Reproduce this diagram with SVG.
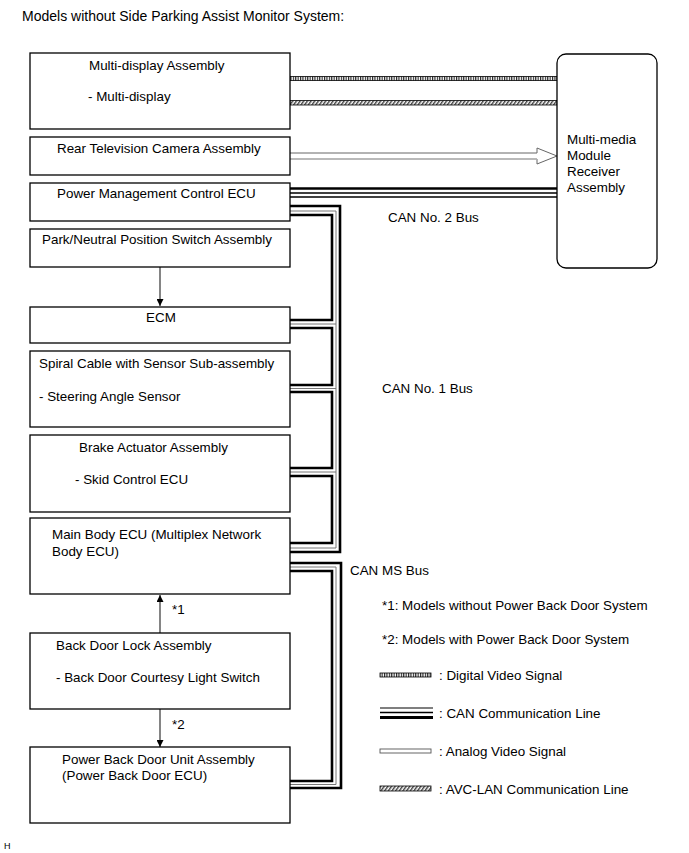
<svg xmlns="http://www.w3.org/2000/svg" width="689" height="853" viewBox="0 0 689 853">
<defs>
<pattern id="vhatch" patternUnits="userSpaceOnUse" width="2.4" height="10"><rect width="2.4" height="10" fill="#fff"/><line x1="0.6" y1="0" x2="0.6" y2="10" stroke="#000" stroke-width="1"/></pattern>
<pattern id="dhatch" patternUnits="userSpaceOnUse" width="3" height="10" patternTransform="rotate(35)"><rect width="3" height="10" fill="#fff"/><line x1="0.8" y1="0" x2="0.8" y2="10" stroke="#000" stroke-width="1.1"/></pattern>
<marker id="ah" viewBox="0 0 10 10" refX="10" refY="5" markerWidth="8" markerHeight="7" markerUnits="userSpaceOnUse" orient="auto"><path d="M0,0 L10,5 L0,10 z" fill="#000"/></marker>
</defs>
<style>
text{font-family:"Liberation Sans",Arial,sans-serif;font-size:13.4px;fill:#000}
.box{fill:#fff;stroke:#000;stroke-width:1.3}
.thk{fill:none;stroke:#000;stroke-width:2.6}
.mid{fill:none;stroke:#777;stroke-width:1}
.thn{fill:none;stroke:#000;stroke-width:1.4}
.arr{stroke:#333;stroke-width:1.2;marker-end:url(#ah)}
</style>
<rect width="689" height="853" fill="#fff"/>
<text x="22" y="21" style="font-size:14px">Models without Side Parking Assist Monitor System:</text>

<g id="connectors">
<rect x="290" y="76.5" width="267" height="4" fill="url(#vhatch)" stroke="#000" stroke-width="0.8"/>
<rect x="290" y="100.5" width="267" height="4.5" fill="url(#dhatch)" stroke="#000" stroke-width="0.8"/>
<path d="M290,153 H537 V148 L557,156 L537,164 V159 H290" fill="#fff" stroke="#666" stroke-width="1"/>
<line x1="290" y1="159" x2="537" y2="159" stroke="#bbb" stroke-width="1.5"/>
<line x1="290" y1="188.5" x2="557" y2="188.5" class="thk"/>
<line x1="290" y1="193" x2="557" y2="193" class="thn" stroke-width="1"/>
<line x1="290" y1="197" x2="557" y2="197" class="thn"/>
<path class="thk" d="M290,206 H340 V552 H290"/>
<path class="mid" d="M290,211 H336 V548 H290"/>
<path class="thk" d="M290,215 H332 V320 H290"/>
<path class="mid" d="M290,324 H336"/>
<path class="thk" d="M290,328 H332 V385 H290"/>
<path class="mid" d="M290,388.5 H336"/>
<path class="thk" d="M290,392 H332 V468 H290"/>
<path class="mid" d="M290,472 H336"/>
<path class="thk" d="M290,476 H332 V543 H290"/>
<path class="thk" d="M290,563 H341 V788 H290"/>
<path class="mid" d="M290,567 H336 V784.5 H290"/>
<path class="thk" d="M290,571 H332 V781 H290"/>
<line class="arr" x1="160" y1="267" x2="160" y2="306"/>
<line class="arr" x1="160" y1="633" x2="160" y2="595"/>
<line class="arr" x1="160" y1="709" x2="160" y2="747"/>
</g>

<g id="multi-display"><rect class="box" x="30" y="53" width="260" height="76"/>
<text x="89" y="70">Multi-display Assembly</text><text x="88" y="101">- Multi-display</text></g>
<g id="rear-camera"><rect class="box" x="30" y="137" width="260" height="38"/>
<text x="57" y="153">Rear Television Camera Assembly</text></g>
<g id="pmc-ecu"><rect class="box" x="30" y="183" width="260" height="38"/>
<text x="57" y="198">Power Management Control ECU</text></g>
<g id="pn-switch"><rect class="box" x="30" y="229" width="260" height="38"/>
<text x="42" y="244">Park/Neutral Position Switch Assembly</text></g>
<g id="ecm"><rect class="box" x="30" y="307" width="260" height="36"/>
<text x="161" y="322" text-anchor="middle">ECM</text></g>
<g id="spiral-cable"><rect class="box" x="30" y="351" width="260" height="76"/>
<text x="39" y="368">Spiral Cable with Sensor Sub-assembly</text><text x="39" y="401">- Steering Angle Sensor</text></g>
<g id="brake-actuator"><rect class="box" x="30" y="435" width="260" height="77"/>
<text x="79" y="452">Brake Actuator Assembly</text><text x="75" y="484">- Skid Control ECU</text></g>
<g id="main-body-ecu"><rect class="box" x="30" y="518" width="260" height="76"/>
<text x="52" y="539">Main Body ECU (Multiplex Network</text><text x="52" y="556">Body ECU)</text></g>
<g id="back-door-lock"><rect class="box" x="30" y="633" width="260" height="76"/>
<text x="56" y="650">Back Door Lock Assembly</text><text x="56" y="682">- Back Door Courtesy Light Switch</text></g>
<g id="power-back-door"><rect class="box" x="30" y="747" width="260" height="76"/>
<text x="62" y="764">Power Back Door Unit Assembly</text><text x="62" y="780">(Power Back Door ECU)</text></g>
<g id="multimedia"><rect class="box" x="557" y="54" width="100" height="214" rx="9"/>
<text x="567" y="144">Multi-media</text><text x="567" y="160">Module</text><text x="567" y="176">Receiver</text><text x="567" y="192">Assembly</text></g>

<g id="labels">
<text x="172" y="614">*1</text>
<text x="172" y="729">*2</text>
<text x="388" y="222">CAN No. 2 Bus</text>
<text x="382" y="393">CAN No. 1 Bus</text>
<text x="350" y="575">CAN MS Bus</text>
<text x="382" y="610">*1: Models without Power Back Door System</text>
<text x="382" y="644">*2: Models with Power Back Door System</text>
</g>

<g id="legend">
<rect x="380" y="673" width="51" height="4" fill="url(#vhatch)" stroke="#000" stroke-width="0.8"/>
<text x="439" y="680">: Digital Video Signal</text>
<line x1="380" y1="708" x2="433" y2="708" stroke="#000" stroke-width="1.2"/>
<line x1="380" y1="712.5" x2="433" y2="712.5" stroke="#000" stroke-width="1.6"/>
<line x1="380" y1="717.5" x2="433" y2="717.5" stroke="#000" stroke-width="3"/>
<text x="439" y="718">: CAN Communication Line</text>
<rect x="380" y="749" width="51" height="4" fill="#fff" stroke="#555" stroke-width="0.9"/>
<text x="439" y="756">: Analog Video Signal</text>
<rect x="380" y="786" width="51" height="5" fill="url(#dhatch)" stroke="#000" stroke-width="0.8"/>
<text x="439" y="794">: AVC-LAN Communication Line</text>
</g>
<text x="4" y="849" style="font-size:9px">H</text>
</svg>
